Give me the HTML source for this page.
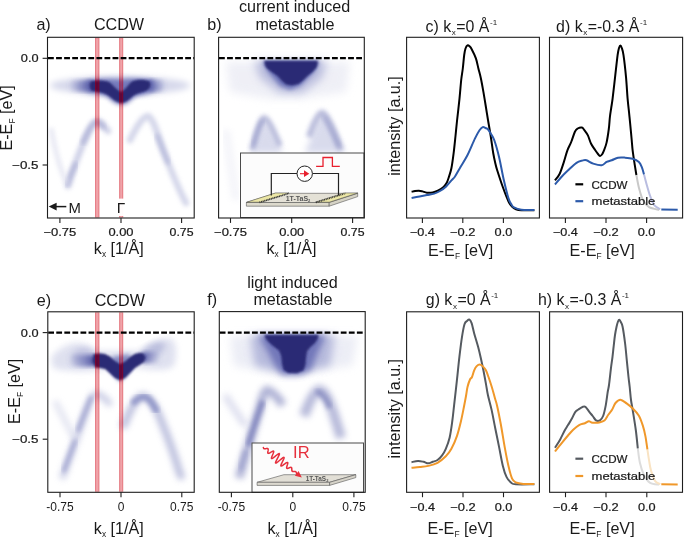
<!DOCTYPE html>
<html><head><meta charset="utf-8"><style>
html,body{margin:0;padding:0;background:#fff;width:685px;height:538px;overflow:hidden;}
svg{display:block;font-family:"Liberation Sans", sans-serif;}
</style></head><body>
<svg width="685" height="538" viewBox="0 0 685 538" font-family='"Liberation Sans", sans-serif'>
<defs>
  <filter id="b1" x="-20%" y="-20%" width="140%" height="140%"><feGaussianBlur stdDeviation="1.2"/></filter>
  <filter id="b2" x="-20%" y="-20%" width="140%" height="140%"><feGaussianBlur stdDeviation="2"/></filter>
  <filter id="b3" x="-30%" y="-30%" width="160%" height="160%"><feGaussianBlur stdDeviation="3"/></filter>
  <filter id="b4" x="-30%" y="-30%" width="160%" height="160%"><feGaussianBlur stdDeviation="4.5"/></filter>
  <clipPath id="cA"><rect x="48" y="37.8" width="145.7" height="179.5"/></clipPath>
  <clipPath id="cB"><rect x="219.1" y="37.8" width="144.7" height="179.5"/></clipPath>
  <clipPath id="cE"><rect x="48.3" y="312.3" width="145.4" height="179.5"/></clipPath>
  <clipPath id="cF"><rect x="219.8" y="312.1" width="144.9" height="179.7"/></clipPath>
  <linearGradient id="gl" x1="0" x2="1" y1="0" y2="0"><stop offset="0" stop-color="#5a60ac" stop-opacity="0"/><stop offset="0.55" stop-color="#5a60ac" stop-opacity="0.55"/><stop offset="1" stop-color="#3a3f94" stop-opacity="1"/></linearGradient>
  <linearGradient id="gr" x1="1" x2="0" y1="0" y2="0"><stop offset="0" stop-color="#5a60ac" stop-opacity="0"/><stop offset="0.55" stop-color="#5a60ac" stop-opacity="0.5"/><stop offset="1" stop-color="#3a3f94" stop-opacity="1"/></linearGradient>
  <filter id="redmap" x="0" y="0" width="100%" height="100%" color-interpolation-filters="sRGB"><feColorMatrix type="matrix" values="0.684 0 0 0 0.257  0 0.735 0 0 -0.095  0 0 0.791 0 -0.13  0 0 0 1 0"/></filter>
</defs>

<g id="arpA" clip-path="url(#cA)">
<ellipse cx="120" cy="85.5" rx="70" ry="9" fill="#d6d8eb" opacity="1" filter="url(#b3)"/>
<ellipse cx="119" cy="87" rx="42" ry="8.5" fill="#a3a7d2" opacity="0.8" filter="url(#b3)"/>
<rect x="68" y="80" width="26" height="11.5" rx="5" fill="url(#gl)" filter="url(#b2)"/>
<rect x="147" y="79.5" width="19" height="12" rx="5" fill="url(#gr)" filter="url(#b2)"/>
<path d="M88,80.5 C100,78.5 112,79 121,80 C130,79 142,78 152,80 L153,91 C146,94 139,95 135,97 C130,102 126,105 121,105 C116,105 111,101 106,96 C100,93 93,92.5 88,92 Z" fill="#666cb4" opacity="0.8" filter="url(#b2)"/>
<path d="M91,81.5 C96,80 104,80 109,82 C113,85 117,90 121,92 C125,90 128,85 132,81.5 C137,79 145,79 149.5,81.5 C151.5,84.5 150.5,88.5 146,91 C141,93 136,93.5 133,96 C129,100 125,103 121,103 C116,102.5 113,99 109,96 C104,92.5 97,91.5 92,91 C89,89 89,83 91,81.5 Z" fill="#2b2c74" filter="url(#b1)"/>
<path d="M68,186 C72,172 80,150 88,133 C91,126 94,121 97,121 C101,121 104,126 108,131" fill="none" stroke="#c0c3e0" stroke-width="6.5" stroke-linecap="round" opacity="0.75" filter="url(#b2)"/>
<path d="M67,184 C70,176 73,170 76,164" fill="none" stroke="#9da1cd" stroke-width="5" stroke-linecap="round" opacity="0.55" filter="url(#b2)"/>
<path d="M83,142 C87,133 91,126 95,123 C98,122 101,124 103,127" fill="none" stroke="#9da1cd" stroke-width="5.5" stroke-linecap="round" opacity="0.55" filter="url(#b2)"/>
<path d="M51,128 C54,145 58,165 67,184" fill="none" stroke="#dfe0ef" stroke-width="5" opacity="0.7" filter="url(#b2)"/>
<path d="M130,140 C136,128 142,117 148,116 C153,118 157,132 164,152 C170,168 178,188 186,203" fill="none" stroke="#c6c9e3" stroke-width="6.5" stroke-linecap="round" opacity="0.75" filter="url(#b2)"/>
<path d="M157,136 C160,143 163,151 168,162" fill="none" stroke="#a3a7d0" stroke-width="5" stroke-linecap="round" opacity="0.55" filter="url(#b2)"/>
</g>
<clipPath id="rbA"><rect x="95.0" y="37.8" width="4.4" height="179.7"/><rect x="119.1" y="37.8" width="4.1" height="179.7"/></clipPath>
<g clip-path="url(#rbA)"><g filter="url(#redmap)"><rect x="90" y="37.8" width="40" height="179.7" fill="#fff"/><use href="#arpA"/></g></g>
<rect x="95.55" y="37.8" width="3.3000000000000003" height="179.7" fill="none" stroke="rgb(200,0,20)" stroke-opacity="0.22" stroke-width="1.1"/>
<rect x="119.64999999999999" y="37.8" width="2.9999999999999996" height="179.7" fill="none" stroke="rgb(200,0,20)" stroke-opacity="0.22" stroke-width="1.1"/>
<line x1="48.0" y1="58.2" x2="194" y2="58.2" stroke="#000" stroke-width="2.2" stroke-dasharray="5.8 2.27"/>
<g clip-path="url(#cB)">
<path d="M226,62 L350,62 L346,92 L300,99 L270,99 L230,92 Z" fill="#e6e7f2" opacity="0.65" filter="url(#b4)"/>
<path d="M254,61 L327,61 L322,78 L302,93 L280,93 L260,78 Z" fill="#a9add6" opacity="0.75" filter="url(#b4)"/>
<path d="M262,61 L320,61 L314,72 L300,86 L290,90 L280,86 L268,72 Z" fill="#5058a8" opacity="0.7" filter="url(#b2)"/>
<polygon points="264.3,60.8 317.6,60.8 317.6,64 316.5,67.5 313,71.5 307.5,76 303,80.5 298.5,84 292,85.6 286,84.5 282,81 277.5,76 271,71.5 266.5,68 264.8,64.5" fill="#2b2c74" filter="url(#b1)"/>
<polygon points="251,153 264,116 283,153" fill="#c9cce5" opacity="0.7" filter="url(#b3)"/>
<polygon points="305,153 322,110 345,153" fill="#c9cce5" opacity="0.7" filter="url(#b3)"/>
<path d="M252,150 C256,134 260,120 264,118 C268,118 274,132 280,146" fill="none" stroke="#a7abd2" stroke-width="6" opacity="0.75" filter="url(#b2)"/>
<path d="M253,146 C256,136 259,126 263,120" fill="none" stroke="#8c91c4" stroke-width="4" opacity="0.55" filter="url(#b2)"/>
<path d="M309,137 C313,125 318,113 322,113 C327,114 334,130 341,150" fill="none" stroke="#a7abd2" stroke-width="6.5" opacity="0.75" filter="url(#b2)"/>
<path d="M324,117 C328,124 333,134 339,147" fill="none" stroke="#8c91c4" stroke-width="4.5" opacity="0.55" filter="url(#b2)"/>
<path d="M226,130 L236,200" fill="none" stroke="#dfe0ef" stroke-width="8" opacity="0.35" filter="url(#b3)"/>
</g>
<line x1="219.0" y1="58.2" x2="364" y2="58.2" stroke="#000" stroke-width="2.2" stroke-dasharray="5.8 2.27"/>
<g id="arpE" clip-path="url(#cE)">
<path d="M51,358 C56,350 66,344 76,343 C86,343 92,348 98,351 L140,351 C150,346 160,338 170,338 C176,340 178,352 174,366 C165,372 150,370 140,368 L100,370 C85,372 65,372 53,368 Z" fill="#dcdeee" opacity="0.9" filter="url(#b3)"/>
<ellipse cx="84" cy="357" rx="12" ry="9" fill="#b3b6da" opacity="0.7" filter="url(#b3)"/>
<ellipse cx="153" cy="350" rx="13" ry="6.5" transform="rotate(-28 153 350)" fill="#a6aad3" opacity="0.65" filter="url(#b3)"/>
<rect x="68" y="355" width="29" height="11.5" rx="5" fill="url(#gl)" filter="url(#b2)"/>
<rect x="141" y="352" width="20" height="11" rx="5" fill="url(#gr)" filter="url(#b2)"/>
<path d="M112,357 L130,354 L130,372 L120,382 L110,372 Z" fill="#4a52a4" opacity="0.6" filter="url(#b2)"/>
<polygon points="93.5,354 100,353.2 105,354 110,356.5 115,361 120,364 125,361.5 130,357 135,353.8 140,352.8 143.5,353.5 145.5,357.5 144,362 140,364.8 135,368 130,373 125,378 120,380.3 115,378 110,373.3 105,369 100,368 95,367.5 92.5,361" fill="#2b2c74" filter="url(#b1)"/>
<path d="M63,476 C68,462 76,440 84,417 C88,405 92,395 95,394 C100,394 105,398 109,403" fill="none" stroke="#b4b8da" stroke-width="6.5" stroke-linecap="round" opacity="0.7" filter="url(#b3)"/>
<path d="M64,470 C67,462 71,452 75,441" fill="none" stroke="#8a8fc4" stroke-width="5" stroke-linecap="round" opacity="0.6" filter="url(#b2)"/>
<path d="M78,430 C82,420 86,410 91,398" fill="none" stroke="#8a8fc4" stroke-width="5" stroke-linecap="round" opacity="0.6" filter="url(#b2)"/>
<path d="M55,401 C62,415 70,430 75,439" fill="none" stroke="#d6d8ea" stroke-width="6" opacity="0.7" filter="url(#b3)"/>
<path d="M124,425 C130,410 136,398 142,396 C148,396 154,405 158,413 C163,425 170,442 176,461 C178,468 180,474 181,476" fill="none" stroke="#a6aad2" stroke-width="7.5" stroke-linecap="round" opacity="0.75" filter="url(#b3)"/>
<path d="M134,402 C138,398 142,396 146,397 C150,399 153,404 156,410" fill="none" stroke="#7e84bf" stroke-width="6.5" stroke-linecap="round" opacity="0.7" filter="url(#b2)"/>
</g>
<clipPath id="rbE"><rect x="95.0" y="312.3" width="4.4" height="179.5"/><rect x="119.1" y="312.3" width="4.1" height="179.5"/></clipPath>
<g clip-path="url(#rbE)"><g filter="url(#redmap)"><rect x="90" y="312.3" width="40" height="179.5" fill="#fff"/><use href="#arpE"/></g></g>
<rect x="95.55" y="312.3" width="3.3000000000000003" height="179.5" fill="none" stroke="rgb(200,0,20)" stroke-opacity="0.22" stroke-width="1.1"/>
<rect x="119.64999999999999" y="312.3" width="2.9999999999999996" height="179.5" fill="none" stroke="rgb(200,0,20)" stroke-opacity="0.22" stroke-width="1.1"/>
<line x1="48.2" y1="332.7" x2="194" y2="332.7" stroke="#000" stroke-width="2.2" stroke-dasharray="5.8 2.27"/>
<g clip-path="url(#cF)">
<path d="M230,336 L358,336 L352,366 L300,372 L270,372 L234,366 Z" fill="#e4e6f2" opacity="0.7" filter="url(#b4)"/>
<path d="M250,335 L335,335 L330,366 L300,373 L282,373 L255,366 Z" fill="#a9add6" opacity="0.8" filter="url(#b4)"/>
<path d="M258,335 L326,335 L318,352 L311,370 L300,375 L282,375 L275,366 L268,352 Z" fill="#5c62ae" opacity="0.75" filter="url(#b3)"/>
<polygon points="264.5,334.8 318.5,334.8 318,338.5 315,343 310,347.5 307,351.5 306,358 305.5,365 303.5,370.5 297,373.2 288,373 283.5,370 282,364 281.2,356 279,350.5 273,346 267.5,341 265,337.5" fill="#2b2c74" filter="url(#b1)"/>
<path d="M239,478 C245,458 252,432 259,410 C262,399 264,391 267,390 C272,391 278,398 283,405" fill="none" stroke="#a0a4ce" stroke-width="8.5" opacity="0.85" filter="url(#b3)"/>
<path d="M248,446 C252,432 256,420 263,401" fill="none" stroke="#6a70b2" stroke-width="5.5" opacity="0.65" filter="url(#b2)"/>
<path d="M240,470 C242,462 244,456 246,450" fill="none" stroke="#8a8fc4" stroke-width="5" opacity="0.5" filter="url(#b2)"/>
<path d="M225,395 C232,406 240,418 246,426" fill="none" stroke="#d0d2e8" stroke-width="7" opacity="0.7" filter="url(#b3)"/>
<path d="M304,416 C309,402 314,392 319,390 C325,390 330,402 335,418 C338,428 340,434 341,438" fill="none" stroke="#a4a8d0" stroke-width="10" opacity="0.8" filter="url(#b3)"/>
<path d="M316,392 C321,392 326,398 330,408" fill="none" stroke="#6f75b4" stroke-width="5.5" opacity="0.6" filter="url(#b2)"/>
</g>
<line x1="219.7" y1="332.7" x2="365" y2="332.7" stroke="#000" stroke-width="2.2" stroke-dasharray="5.8 2.27"/>
<rect x="240.5" y="153" width="123.5" height="64.5" fill="#fcfcfc" stroke="#4a4a4a" stroke-width="1"/>
<polygon points="246.4,202.5 275,193.3 357.7,193.3 329.2,202.5" fill="#e4e1d6" stroke="#555" stroke-width="0.6"/>
<polygon points="246.4,202.5 329.2,202.5 329.2,206.2 246.4,206.2" fill="#dcd9cc" stroke="#555" stroke-width="0.6"/>
<polygon points="329.2,202.5 357.7,193.3 357.7,196.6 329.2,206.2" fill="#d6d3c6" stroke="#555" stroke-width="0.6"/>
<polygon points="246.6,202.2 275.5,193 289,193 261,202.2" fill="#ece7a6" stroke="#444" stroke-width="0.5"/>
<line x1="259.5" y1="202.4" x2="289" y2="193.4" stroke="#333" stroke-width="1.7" stroke-dasharray="0.9 0.8"/>
<polygon points="315.5,202.2 344,193 357.7,193 329.2,202.2" fill="#ece7a6" stroke="#444" stroke-width="0.5"/>
<line x1="316" y1="202.4" x2="345.5" y2="193.4" stroke="#333" stroke-width="1.7" stroke-dasharray="0.9 0.8"/>
<text x="298" y="201.2" font-size="7" font-weight="bold" text-anchor="middle" fill="#555">1T-TaS<tspan font-size="4" dy="1.2">2</tspan></text>
<polyline points="271.3,195.5 271.3,173.5 297,173.5" fill="none" stroke="#222" stroke-width="1.2"/>
<polyline points="312.5,173.5 338.5,173.5 338.5,195.5" fill="none" stroke="#222" stroke-width="1.2"/>
<circle cx="304.7" cy="173.7" r="7.7" fill="#fff" stroke="#222" stroke-width="1"/>
<line x1="300" y1="173.7" x2="305" y2="173.7" stroke="#e8202e" stroke-width="1.1"/>
<polygon points="304,170.3 309.3,173.7 304,177.1" fill="#e8202e"/>
<polyline points="316.1,166.4 323,166.4 323,157.5 332.4,157.5 332.4,166.4 339.8,166.4" fill="none" stroke="#e8202e" stroke-width="1.3"/>
<rect x="252" y="443" width="111.5" height="49.3" fill="#fcfcfc" stroke="#4a4a4a" stroke-width="1"/>
<polygon points="257.1,482.3 283.9,474.7 355.8,474.7 329.6,482.3" fill="#e2dfd6" stroke="#555" stroke-width="0.6"/>
<polygon points="257.1,482.3 329.6,482.3 329.6,485.4 257.1,485.4" fill="#dcd9cf" stroke="#555" stroke-width="0.6"/>
<polygon points="329.6,482.3 355.8,474.7 355.8,477.6 329.6,485.4" fill="#d6d3c9" stroke="#555" stroke-width="0.6"/>
<text x="317" y="480.8" font-size="6.4" font-weight="bold" text-anchor="middle" fill="#555">1T-TaS<tspan font-size="4" dy="1.2">2</tspan></text>
<polyline points="263.30,446.80 263.33,447.00 263.35,447.20 263.38,447.40 263.42,447.59 263.46,447.77 263.50,447.95 263.56,448.11 263.63,448.26 263.70,448.40 263.80,448.52 263.90,448.62 264.03,448.70 264.16,448.76 264.31,448.81 264.48,448.83 264.66,448.84 264.85,448.84 265.05,448.82 265.27,448.78 265.49,448.74 265.71,448.69 265.94,448.64 266.17,448.59 266.40,448.54 266.62,448.49 266.84,448.46 267.05,448.43 267.24,448.42 267.42,448.43 267.58,448.47 267.73,448.52 267.85,448.60 267.95,448.70 268.04,448.83 268.10,448.99 268.14,449.17 268.16,449.38 268.16,449.61 268.15,449.86 268.12,450.13 268.08,450.41 268.03,450.70 267.98,451.00 267.93,451.30 267.88,451.60 267.83,451.89 267.80,452.16 267.78,452.42 267.78,452.65 267.80,452.86 267.85,453.04 267.92,453.18 268.03,453.28 268.16,453.35 268.32,453.38 268.52,453.37 268.75,453.32 269.00,453.24 269.28,453.12 269.59,452.97 269.91,452.80 270.25,452.61 270.60,452.41 270.96,452.19 271.31,451.98 271.66,451.78 272.00,451.59 272.32,451.42 272.62,451.29 272.89,451.18 273.13,451.12 273.33,451.10 273.49,451.14 273.61,451.22 273.68,451.36 273.71,451.56 273.70,451.81 273.64,452.11 273.55,452.46 273.42,452.86 273.26,453.29 273.07,453.76 272.87,454.25 272.66,454.75 272.44,455.25 272.22,455.75 272.02,456.24 271.84,456.70 271.68,457.13 271.56,457.51 271.48,457.85 271.45,458.12 271.47,458.33 271.54,458.48 271.67,458.55 271.86,458.55 272.10,458.48 272.40,458.34 272.75,458.13 273.15,457.87 273.59,457.55 274.07,457.19 274.57,456.80 275.09,456.38 275.62,455.96 276.14,455.53 276.66,455.12 277.15,454.74 277.62,454.39 278.05,454.09 278.43,453.85 278.75,453.68 279.02,453.58 279.22,453.56 279.36,453.62 279.43,453.77 279.43,454.00 279.36,454.32 279.24,454.71 279.05,455.17 278.82,455.70 278.54,456.28 278.23,456.90 277.90,457.55 277.55,458.22 277.20,458.89 276.86,459.55 276.53,460.18 276.24,460.78 275.99,461.34 275.78,461.83 275.63,462.25 275.54,462.59 275.52,462.85 275.57,463.02 275.69,463.11 275.88,463.10 276.14,463.01 276.47,462.83 276.86,462.58 277.30,462.26 277.79,461.89 278.32,461.46 278.87,461.00 279.44,460.53 280.02,460.04 280.59,459.56 281.15,459.09 281.68,458.66 282.18,458.28 282.63,457.95 283.03,457.68 283.38,457.48 283.66,457.37 283.87,457.33 284.02,457.38 284.10,457.52 284.11,457.73 284.07,458.03 283.96,458.40 283.80,458.83 283.59,459.32 283.35,459.85 283.08,460.42 282.80,461.01 282.50,461.62 282.20,462.22 281.92,462.81 281.65,463.38 281.41,463.91 281.21,464.40 281.05,464.83 280.93,465.21 280.87,465.52 280.87,465.76 280.92,465.93 281.03,466.02 281.19,466.05 281.41,466.01 281.68,465.91 281.99,465.75 282.35,465.55 282.73,465.30 283.14,465.02 283.57,464.72 284.01,464.40 284.46,464.08 284.89,463.77 285.32,463.47 285.72,463.20 286.10,462.96 286.45,462.76 286.77,462.60 287.04,462.49 287.27,462.44 287.46,462.43 287.61,462.48 287.71,462.59 287.77,462.75 287.79,462.95 287.78,463.20 287.73,463.49 287.66,463.82 287.57,464.17 287.46,464.54 287.34,464.92 287.21,465.31 287.09,465.70 286.97,466.08 286.87,466.45 286.78,466.79 286.71,467.11 286.66,467.41 286.64,467.66 286.65,467.89 286.69,468.07 286.76,468.22 286.86,468.33 286.99,468.40 287.14,468.44 287.33,468.44 287.54,468.41 287.77,468.36 288.01,468.28 288.28,468.19 288.55,468.09 288.82,467.98 289.10,467.86 289.38,467.75 289.65,467.64 289.91,467.55 290.17,467.47 290.40,467.40 290.63,467.36 290.83,467.34 291.01,467.35 291.17,467.38 291.31,467.44 291.43,467.52 291.54,467.63 291.62,467.76 291.68,467.91 291.73,468.09 291.76,468.28 291.78,468.49 291.79,468.71 291.80,468.93 291.80,469.17 291.80,469.40 291.80,469.63 291.80,469.86 291.81,470.08 291.83,470.29 291.86,470.49 291.90,470.68 291.95,470.85 292.01,471.00 292.09,471.14 292.19,471.25 292.30,471.35 292.42,471.43 292.56,471.49 292.71,471.54 292.87,471.57 293.04,471.59 293.23,471.59 293.42,471.59 293.61,471.58 293.81,471.57 294.01,471.55 294.21,471.53 294.41,471.52 294.60,471.51 294.79,471.51 294.97,471.52 295.14,471.53 295.31,471.56 295.46,471.61 295.60,471.66 295.73,471.73 295.85,471.82 295.96,471.92 296.06,472.03 296.14,472.16 296.22,472.30 296.28,472.45 296.34,472.61 296.39,472.78 296.44,472.95 296.48,473.13 296.52,473.32 296.56,473.50 296.61,473.68 296.65,473.86 296.70,474.03 296.75,474.20 296.82,474.35 296.89,474.50 296.97,474.63 297.05,474.76" fill="none" stroke="#e62f3c" stroke-width="1.5" stroke-linejoin="round"/>
<polygon points="301.8,477.5 294.85,475.78 298.60,471.09" fill="#e62f3c"/>
<text x="301.3" y="457.8" font-size="16.5" text-anchor="middle" fill="#e62f3c">IR</text>
<rect x="47.5" y="37.3" width="146.7" height="180.7" fill="none" stroke="#1e1e1e" stroke-width="1.1"/>
<rect x="218.6" y="37.3" width="145.70000000000002" height="180.7" fill="none" stroke="#1e1e1e" stroke-width="1.1"/>
<rect x="406.6" y="37.3" width="132.79999999999995" height="180.7" fill="none" stroke="#1e1e1e" stroke-width="1.1"/>
<rect x="549.5" y="37.3" width="133.10000000000002" height="180.7" fill="none" stroke="#1e1e1e" stroke-width="1.1"/>
<rect x="47.8" y="311.8" width="146.39999999999998" height="180.5" fill="none" stroke="#1e1e1e" stroke-width="1.1"/>
<rect x="219.3" y="311.6" width="145.89999999999998" height="180.7" fill="none" stroke="#1e1e1e" stroke-width="1.1"/>
<rect x="406.6" y="311.8" width="132.79999999999995" height="180.5" fill="none" stroke="#1e1e1e" stroke-width="1.1"/>
<rect x="549.6" y="311.8" width="132.89999999999998" height="180.5" fill="none" stroke="#1e1e1e" stroke-width="1.1"/>
<path d="M411.60,191.80 C412.17,191.67 413.78,191.18 415.00,191.00 C416.22,190.82 417.65,190.63 418.90,190.70 C420.15,190.77 421.17,191.07 422.50,191.40 C423.83,191.73 425.20,192.52 426.90,192.70 C428.60,192.88 430.88,192.83 432.70,192.50 C434.52,192.17 436.08,191.55 437.80,190.70 C439.52,189.85 441.53,188.68 443.00,187.40 C444.47,186.12 445.63,184.70 446.60,183.00 C447.57,181.30 448.00,179.65 448.80,177.20 C449.60,174.75 450.60,172.27 451.40,168.30 C452.20,164.33 452.92,158.78 453.60,153.40 C454.28,148.02 454.93,141.40 455.50,136.00 C456.07,130.60 456.33,127.23 457.00,121.00 C457.67,114.77 458.80,105.43 459.50,98.60 C460.20,91.77 460.65,85.02 461.20,80.00 C461.75,74.98 462.30,72.67 462.80,68.50 C463.30,64.33 463.75,58.33 464.20,55.00 C464.65,51.67 464.95,50.10 465.50,48.50 C466.05,46.90 466.83,45.78 467.50,45.40 C468.17,45.02 468.80,45.57 469.50,46.20 C470.20,46.83 470.63,47.17 471.70,49.20 C472.77,51.23 474.78,55.18 475.90,58.40 C477.02,61.62 477.57,65.15 478.40,68.50 C479.23,71.85 480.07,74.60 480.90,78.50 C481.73,82.40 482.57,87.15 483.40,91.90 C484.23,96.65 485.13,102.32 485.90,107.00 C486.67,111.68 487.20,115.17 488.00,120.00 C488.80,124.83 489.83,130.50 490.70,136.00 C491.57,141.50 492.40,148.33 493.20,153.00 C494.00,157.67 494.83,161.13 495.50,164.00 C496.17,166.87 495.98,166.37 497.20,170.20 C498.42,174.03 500.93,181.83 502.80,187.00 C504.67,192.17 506.87,197.95 508.40,201.20 C509.93,204.45 510.73,205.17 512.00,206.50 C513.27,207.83 514.43,208.58 516.00,209.20 C517.57,209.82 518.33,210.03 521.40,210.20 C524.47,210.37 532.23,210.20 534.40,210.20" fill="none" stroke="#000000" stroke-width="2.0" stroke-linejoin="round" stroke-linecap="butt" />
<path d="M411.60,198.00 C412.93,197.75 417.05,196.98 419.60,196.50 C422.15,196.02 424.47,195.58 426.90,195.10 C429.33,194.62 432.02,194.28 434.20,193.60 C436.38,192.92 438.05,192.15 440.00,191.00 C441.95,189.85 443.95,188.52 445.90,186.70 C447.85,184.88 450.18,181.80 451.70,180.10 C453.22,178.40 453.53,178.68 455.00,176.50 C456.47,174.32 458.43,170.53 460.50,167.00 C462.57,163.47 465.00,160.03 467.40,155.30 C469.80,150.57 472.88,142.78 474.90,138.60 C476.92,134.42 478.20,132.12 479.50,130.20 C480.80,128.28 481.70,127.47 482.70,127.10 C483.70,126.73 484.63,127.63 485.50,128.00 C486.37,128.37 486.98,128.30 487.90,129.30 C488.82,130.30 489.92,132.13 491.00,134.00 C492.08,135.87 493.05,136.63 494.40,140.50 C495.75,144.37 497.55,150.70 499.10,157.20 C500.65,163.70 502.15,172.68 503.70,179.50 C505.25,186.32 507.10,193.93 508.40,198.10 C509.70,202.27 510.57,202.95 511.50,204.50 C512.43,206.05 512.35,206.53 514.00,207.40 C515.65,208.27 518.00,209.28 521.40,209.70 C524.80,210.12 532.23,209.87 534.40,209.90" fill="none" stroke="#2c5aaa" stroke-width="2.0" stroke-linejoin="round" stroke-linecap="butt" />
<path d="M636.40,175.00 C636.82,177.12 637.82,183.53 638.90,187.70 C639.98,191.87 641.20,196.77 642.90,200.00 C644.60,203.23 646.37,205.47 649.10,207.10 C651.83,208.73 657.60,209.35 659.30,209.80" fill="none" stroke="#c9c9c9" stroke-width="2.0" stroke-linejoin="round" stroke-linecap="butt" />
<path d="M644.00,174.40 C644.50,176.28 645.98,182.12 647.00,185.70 C648.02,189.28 648.90,192.67 650.10,195.90 C651.30,199.13 652.50,202.88 654.20,205.10 C655.90,207.32 659.28,208.52 660.30,209.20" fill="none" stroke="#b9bde0" stroke-width="2.0" stroke-linejoin="round" stroke-linecap="butt" />
<path d="M555.00,180.40 C555.78,179.28 558.22,176.78 559.70,173.70 C561.18,170.62 562.62,165.80 563.90,161.90 C565.18,158.00 566.18,153.62 567.40,150.30 C568.62,146.98 569.95,145.10 571.20,142.00 C572.45,138.90 573.82,133.95 574.90,131.70 C575.98,129.45 576.55,129.20 577.70,128.50 C578.85,127.80 580.72,127.27 581.80,127.50 C582.88,127.73 583.18,128.58 584.20,129.90 C585.22,131.22 586.75,133.08 587.90,135.40 C589.05,137.72 589.87,141.32 591.10,143.80 C592.33,146.28 594.15,148.60 595.30,150.30 C596.45,152.00 597.22,153.07 598.00,154.00 C598.78,154.93 599.33,155.82 600.00,155.90 C600.67,155.98 601.38,155.28 602.00,154.50 C602.62,153.72 602.95,153.13 603.70,151.20 C604.45,149.27 605.65,146.60 606.50,142.90 C607.35,139.20 608.23,133.32 608.80,129.00 C609.37,124.68 609.50,120.50 609.90,117.00 C610.30,113.50 610.75,111.05 611.20,108.00 C611.65,104.95 611.95,103.88 612.60,98.70 C613.25,93.52 614.27,84.17 615.10,76.90 C615.93,69.63 616.95,59.92 617.60,55.10 C618.25,50.28 618.53,49.62 619.00,48.00 C619.47,46.38 619.93,45.40 620.40,45.40 C620.87,45.40 621.28,46.38 621.80,48.00 C622.32,49.62 622.80,50.28 623.50,55.10 C624.20,59.92 625.32,69.63 626.00,76.90 C626.68,84.17 627.10,92.85 627.60,98.70 C628.10,104.55 628.57,107.78 629.00,112.00 C629.43,116.22 629.75,119.33 630.20,124.00 C630.65,128.67 631.28,135.52 631.70,140.00 C632.12,144.48 632.18,146.70 632.70,150.90 C633.22,155.10 634.18,161.18 634.80,165.20 C635.42,169.22 636.13,173.37 636.40,175.00" fill="none" stroke="#000000" stroke-width="2.0" stroke-linejoin="round" stroke-linecap="butt" />
<path d="M555.00,184.50 C556.07,183.25 559.22,179.37 561.40,177.00 C563.58,174.63 565.58,172.67 568.10,170.30 C570.62,167.93 574.13,164.42 576.50,162.80 C578.87,161.18 580.63,161.02 582.30,160.60 C583.97,160.18 584.68,159.80 586.50,160.30 C588.32,160.80 590.68,162.77 593.20,163.60 C595.72,164.43 599.37,165.58 601.60,165.30 C603.83,165.02 604.92,162.73 606.60,161.90 C608.28,161.07 609.80,161.00 611.70,160.30 C613.60,159.60 615.87,158.15 618.00,157.70 C620.13,157.25 622.05,157.43 624.50,157.60 C626.95,157.77 630.30,157.95 632.70,158.70 C635.10,159.45 637.37,160.67 638.90,162.10 C640.43,163.53 641.05,165.25 641.90,167.30 C642.75,169.35 643.65,173.22 644.00,174.40" fill="none" stroke="#2c5aaa" stroke-width="2.0" stroke-linejoin="round" stroke-linecap="butt" />
<path d="M661.30,209.60 L677.70,209.80" fill="none" stroke="#2c5aaa" stroke-width="2.0" stroke-linejoin="round" stroke-linecap="butt" />
<path d="M411.50,462.20 C412.58,461.98 415.98,460.97 418.00,460.90 C420.02,460.83 421.90,461.40 423.60,461.80 C425.30,462.20 426.67,463.30 428.20,463.30 C429.73,463.30 431.25,462.35 432.80,461.80 C434.35,461.25 435.95,461.08 437.50,460.00 C439.05,458.92 440.72,457.17 442.10,455.30 C443.48,453.43 444.55,451.73 445.80,448.80 C447.05,445.87 448.52,442.33 449.60,437.70 C450.68,433.07 451.53,426.57 452.30,421.00 C453.07,415.43 453.43,411.07 454.20,404.30 C454.97,397.53 456.03,388.30 456.90,380.40 C457.77,372.50 458.55,364.17 459.40,356.90 C460.25,349.63 461.15,342.25 462.00,336.80 C462.85,331.35 463.67,326.85 464.50,324.20 C465.33,321.55 466.17,321.67 467.00,320.90 C467.83,320.13 468.72,319.18 469.50,319.60 C470.28,320.02 470.92,321.10 471.70,323.40 C472.48,325.70 473.13,329.50 474.20,333.40 C475.27,337.30 476.98,342.62 478.10,346.80 C479.22,350.98 480.02,354.58 480.90,358.50 C481.78,362.42 482.57,366.12 483.40,370.30 C484.23,374.48 485.15,379.48 485.90,383.60 C486.65,387.72 486.95,390.62 487.90,395.00 C488.85,399.38 490.37,404.32 491.60,409.90 C492.83,415.48 494.05,422.30 495.30,428.50 C496.55,434.70 497.85,440.90 499.10,447.10 C500.35,453.30 501.57,460.73 502.80,465.70 C504.03,470.67 505.10,474.05 506.50,476.90 C507.90,479.75 509.65,481.57 511.20,482.80 C512.75,484.03 511.93,484.05 515.80,484.30 C519.67,484.55 531.30,484.30 534.40,484.30" fill="none" stroke="#555a60" stroke-width="2.0" stroke-linejoin="round" stroke-linecap="butt" />
<path d="M411.50,467.80 C412.90,467.67 417.12,467.32 419.90,467.00 C422.68,466.68 425.27,466.60 428.20,465.90 C431.13,465.20 434.57,464.40 437.50,462.80 C440.43,461.20 443.48,458.63 445.80,456.30 C448.12,453.97 449.53,452.22 451.40,448.80 C453.27,445.38 455.40,440.43 457.00,435.80 C458.60,431.17 459.83,425.88 461.00,421.00 C462.17,416.12 463.17,410.67 464.00,406.50 C464.83,402.33 465.42,399.25 466.00,396.00 C466.58,392.75 466.83,389.75 467.50,387.00 C468.17,384.25 469.25,381.17 470.00,379.50 C470.75,377.83 471.30,378.53 472.00,377.00 C472.70,375.47 473.42,372.12 474.20,370.30 C474.98,368.48 475.78,367.08 476.70,366.10 C477.62,365.12 478.72,364.40 479.70,364.40 C480.68,364.40 481.57,365.12 482.60,366.10 C483.63,367.08 484.92,368.48 485.90,370.30 C486.88,372.12 487.52,374.22 488.50,377.00 C489.48,379.78 490.70,383.38 491.80,387.00 C492.90,390.62 494.20,395.50 495.10,398.70 C496.00,401.90 496.23,401.85 497.20,406.20 C498.17,410.55 499.65,417.98 500.90,424.80 C502.15,431.62 503.45,440.28 504.70,447.10 C505.95,453.92 507.17,460.43 508.40,465.70 C509.63,470.97 510.87,475.92 512.10,478.70 C513.33,481.48 513.93,481.53 515.80,482.40 C517.67,483.27 520.20,483.62 523.30,483.90 C526.40,484.18 532.55,484.07 534.40,484.10" fill="none" stroke="#f0982a" stroke-width="2.0" stroke-linejoin="round" stroke-linecap="butt" />
<path d="M637.80,448.40 C638.15,450.78 638.87,458.27 639.90,462.70 C640.93,467.13 642.30,471.65 644.00,475.00 C645.70,478.35 647.55,481.20 650.10,482.80 C652.65,484.40 657.77,484.30 659.30,484.60" fill="none" stroke="#dcdcdc" stroke-width="2.0" stroke-linejoin="round" stroke-linecap="butt" />
<path d="M647.40,449.40 C647.68,451.28 648.48,457.12 649.10,460.70 C649.72,464.28 650.08,467.50 651.10,470.90 C652.12,474.30 653.67,478.88 655.20,481.10 C656.73,483.32 659.45,483.68 660.30,484.20" fill="none" stroke="#f9e3c3" stroke-width="2.0" stroke-linejoin="round" stroke-linecap="butt" />
<path d="M555.00,447.80 C555.87,446.40 558.57,442.32 560.20,439.40 C561.83,436.48 563.50,432.68 564.80,430.30 C566.10,427.92 566.82,427.05 568.00,425.10 C569.18,423.15 570.70,420.77 571.90,418.60 C573.10,416.43 574.12,413.62 575.20,412.10 C576.28,410.58 577.10,410.40 578.40,409.50 C579.70,408.60 581.80,407.13 583.00,406.70 C584.20,406.27 584.52,406.00 585.60,406.90 C586.68,407.80 588.32,410.58 589.50,412.10 C590.68,413.62 591.62,414.63 592.70,416.00 C593.78,417.37 594.80,419.58 596.00,420.30 C597.20,421.02 598.72,421.02 599.90,420.30 C601.08,419.58 602.13,418.45 603.10,416.00 C604.07,413.55 604.93,409.60 605.70,405.60 C606.47,401.60 607.15,395.43 607.70,392.00 C608.25,388.57 608.47,388.90 609.00,385.00 C609.53,381.10 610.32,373.28 610.90,368.60 C611.48,363.92 612.05,360.52 612.50,356.90 C612.95,353.28 613.18,350.55 613.60,346.90 C614.02,343.25 614.52,338.32 615.00,335.00 C615.48,331.68 616.00,329.25 616.50,327.00 C617.00,324.75 617.53,322.72 618.00,321.50 C618.47,320.28 618.83,319.62 619.30,319.70 C619.77,319.78 620.25,320.82 620.80,322.00 C621.35,323.18 621.88,323.22 622.60,326.80 C623.32,330.38 624.40,337.92 625.10,343.50 C625.80,349.08 626.23,354.72 626.80,360.30 C627.37,365.88 628.02,372.55 628.50,377.00 C628.98,381.45 629.28,383.17 629.70,387.00 C630.12,390.83 630.50,396.17 631.00,400.00 C631.50,403.83 631.90,405.00 632.70,410.00 C633.50,415.00 634.95,423.60 635.80,430.00 C636.65,436.40 637.47,445.33 637.80,448.40" fill="none" stroke="#555a60" stroke-width="2.0" stroke-linejoin="round" stroke-linecap="butt" />
<path d="M555.00,451.50 C556.08,450.13 559.33,445.97 561.50,443.30 C563.67,440.63 566.05,437.77 568.00,435.50 C569.95,433.23 571.35,431.43 573.20,429.70 C575.05,427.97 577.15,426.18 579.10,425.10 C581.05,424.02 583.28,423.85 584.90,423.20 C586.52,422.55 587.72,421.32 588.80,421.20 C589.88,421.08 590.37,422.23 591.40,422.50 C592.43,422.77 593.70,422.80 595.00,422.80 C596.30,422.80 597.63,422.87 599.20,422.50 C600.77,422.13 602.88,421.90 604.40,420.60 C605.92,419.30 607.00,416.55 608.30,414.70 C609.60,412.85 611.00,411.45 612.20,409.50 C613.40,407.55 614.13,404.63 615.50,403.00 C616.87,401.37 618.55,399.63 620.40,399.70 C622.25,399.77 624.55,401.93 626.60,403.40 C628.65,404.87 630.65,406.45 632.70,408.50 C634.75,410.55 637.20,412.80 638.90,415.70 C640.60,418.60 641.82,422.50 642.90,425.90 C643.98,429.30 644.65,432.18 645.40,436.10 C646.15,440.02 647.07,447.18 647.40,449.40" fill="none" stroke="#f0982a" stroke-width="2.0" stroke-linejoin="round" stroke-linecap="butt" />
<path d="M661.30,484.20 L677.70,484.40" fill="none" stroke="#f0982a" stroke-width="2.0" stroke-linejoin="round" stroke-linecap="butt" />
<line x1="575.4" y1="184.3" x2="583.2" y2="184.3" stroke="#000000" stroke-width="2.2" />
<line x1="575.4" y1="201.2" x2="583.2" y2="201.2" stroke="#2c5aaa" stroke-width="2.2" />
<text x="591.5" y="188.60000000000002" font-size="10.8" text-anchor="start" fill="#1a1a1a" textLength="36" lengthAdjust="spacingAndGlyphs" stroke="#1a1a1a" stroke-width="0.22">CCDW</text>
<text x="591.5" y="205.2" font-size="10.8" text-anchor="start" fill="#1a1a1a" textLength="63.9" lengthAdjust="spacingAndGlyphs" stroke="#1a1a1a" stroke-width="0.22">metastable</text>
<line x1="575.4" y1="458.7" x2="583.2" y2="458.7" stroke="#555a60" stroke-width="2.2" />
<line x1="575.4" y1="476.0" x2="583.2" y2="476.0" stroke="#f0982a" stroke-width="2.2" />
<text x="591.5" y="463.0" font-size="10.8" text-anchor="start" fill="#1a1a1a" textLength="36" lengthAdjust="spacingAndGlyphs" stroke="#1a1a1a" stroke-width="0.22">CCDW</text>
<text x="591.5" y="480.0" font-size="10.8" text-anchor="start" fill="#1a1a1a" textLength="63.9" lengthAdjust="spacingAndGlyphs" stroke="#1a1a1a" stroke-width="0.22">metastable</text>
<line x1="42.6" y1="58.3" x2="47.5" y2="58.3" stroke="#1e1e1e" stroke-width="1.1" />
<text x="38.5" y="62.199999999999996" font-size="11" text-anchor="end" fill="#1a1a1a" textLength="17.7" lengthAdjust="spacingAndGlyphs" stroke="#1a1a1a" stroke-width="0.22">0.0</text>
<line x1="42.6" y1="165.0" x2="47.5" y2="165.0" stroke="#1e1e1e" stroke-width="1.1" />
<text x="38.5" y="168.9" font-size="11" text-anchor="end" fill="#1a1a1a" textLength="26.4" lengthAdjust="spacingAndGlyphs" stroke="#1a1a1a" stroke-width="0.22">−0.5</text>
<line x1="59.9" y1="218.0" x2="59.9" y2="222.9" stroke="#1e1e1e" stroke-width="1.1" />
<text x="59.9" y="236.1" font-size="11" text-anchor="middle" fill="#1a1a1a" textLength="32.9" lengthAdjust="spacingAndGlyphs" stroke="#1a1a1a" stroke-width="0.22">−0.75</text>
<line x1="121.0" y1="218.0" x2="121.0" y2="222.9" stroke="#1e1e1e" stroke-width="1.1" />
<text x="121.0" y="236.1" font-size="11" text-anchor="middle" fill="#1a1a1a" textLength="25.1" lengthAdjust="spacingAndGlyphs" stroke="#1a1a1a" stroke-width="0.22">0.00</text>
<line x1="181.6" y1="218.0" x2="181.6" y2="222.9" stroke="#1e1e1e" stroke-width="1.1" />
<text x="181.6" y="236.1" font-size="11" text-anchor="middle" fill="#1a1a1a" textLength="24.0" lengthAdjust="spacingAndGlyphs" stroke="#1a1a1a" stroke-width="0.22">0.75</text>
<line x1="230.5" y1="218.0" x2="230.5" y2="222.9" stroke="#1e1e1e" stroke-width="1.1" />
<text x="230.5" y="236.1" font-size="11" text-anchor="middle" fill="#1a1a1a" textLength="32.9" lengthAdjust="spacingAndGlyphs" stroke="#1a1a1a" stroke-width="0.22">−0.75</text>
<line x1="291.7" y1="218.0" x2="291.7" y2="222.9" stroke="#1e1e1e" stroke-width="1.1" />
<text x="291.7" y="236.1" font-size="11" text-anchor="middle" fill="#1a1a1a" textLength="25.1" lengthAdjust="spacingAndGlyphs" stroke="#1a1a1a" stroke-width="0.22">0.00</text>
<line x1="352.6" y1="218.0" x2="352.6" y2="222.9" stroke="#1e1e1e" stroke-width="1.1" />
<text x="352.6" y="236.1" font-size="11" text-anchor="middle" fill="#1a1a1a" textLength="24.0" lengthAdjust="spacingAndGlyphs" stroke="#1a1a1a" stroke-width="0.22">0.75</text>
<line x1="422.4" y1="218.0" x2="422.4" y2="222.9" stroke="#1e1e1e" stroke-width="1.1" />
<text x="422.4" y="236.0" font-size="11" text-anchor="middle" fill="#1a1a1a" textLength="25.0" lengthAdjust="spacingAndGlyphs" stroke="#1a1a1a" stroke-width="0.22">−0.4</text>
<line x1="462.8" y1="218.0" x2="462.8" y2="222.9" stroke="#1e1e1e" stroke-width="1.1" />
<text x="462.8" y="236.0" font-size="11" text-anchor="middle" fill="#1a1a1a" textLength="25.4" lengthAdjust="spacingAndGlyphs" stroke="#1a1a1a" stroke-width="0.22">−0.2</text>
<line x1="503.4" y1="218.0" x2="503.4" y2="222.9" stroke="#1e1e1e" stroke-width="1.1" />
<text x="503.4" y="236.0" font-size="11" text-anchor="middle" fill="#1a1a1a" textLength="17.7" lengthAdjust="spacingAndGlyphs" stroke="#1a1a1a" stroke-width="0.22">0.0</text>
<line x1="565.4" y1="218.0" x2="565.4" y2="222.9" stroke="#1e1e1e" stroke-width="1.1" />
<text x="565.4" y="236.0" font-size="11" text-anchor="middle" fill="#1a1a1a" textLength="25.0" lengthAdjust="spacingAndGlyphs" stroke="#1a1a1a" stroke-width="0.22">−0.4</text>
<line x1="606.0" y1="218.0" x2="606.0" y2="222.9" stroke="#1e1e1e" stroke-width="1.1" />
<text x="606.0" y="236.0" font-size="11" text-anchor="middle" fill="#1a1a1a" textLength="25.4" lengthAdjust="spacingAndGlyphs" stroke="#1a1a1a" stroke-width="0.22">−0.2</text>
<line x1="646.6" y1="218.0" x2="646.6" y2="222.9" stroke="#1e1e1e" stroke-width="1.1" />
<text x="646.6" y="236.0" font-size="11" text-anchor="middle" fill="#1a1a1a" textLength="17.7" lengthAdjust="spacingAndGlyphs" stroke="#1a1a1a" stroke-width="0.22">0.0</text>
<line x1="42.7" y1="332.6" x2="47.6" y2="332.6" stroke="#1e1e1e" stroke-width="1.1" />
<text x="38.5" y="336.5" font-size="11" text-anchor="end" fill="#1a1a1a" textLength="17.7" lengthAdjust="spacingAndGlyphs" stroke="#1a1a1a" stroke-width="0.22">0.0</text>
<line x1="42.7" y1="439.2" x2="47.6" y2="439.2" stroke="#1e1e1e" stroke-width="1.1" />
<text x="38.5" y="443.09999999999997" font-size="11" text-anchor="end" fill="#1a1a1a" textLength="26.4" lengthAdjust="spacingAndGlyphs" stroke="#1a1a1a" stroke-width="0.22">−0.5</text>
<line x1="60.0" y1="492.3" x2="60.0" y2="497.2" stroke="#1e1e1e" stroke-width="1.1" />
<text x="60.0" y="511.2" font-size="12" text-anchor="middle" fill="#1a1a1a" >-0.75</text>
<line x1="121.0" y1="492.3" x2="121.0" y2="497.2" stroke="#1e1e1e" stroke-width="1.1" />
<text x="121.0" y="511.2" font-size="12" text-anchor="middle" fill="#1a1a1a" >0</text>
<line x1="181.8" y1="492.3" x2="181.8" y2="497.2" stroke="#1e1e1e" stroke-width="1.1" />
<text x="181.8" y="511.2" font-size="12" text-anchor="middle" fill="#1a1a1a" >0.75</text>
<line x1="231.4" y1="492.3" x2="231.4" y2="497.2" stroke="#1e1e1e" stroke-width="1.1" />
<text x="231.4" y="511.2" font-size="12" text-anchor="middle" fill="#1a1a1a" >-0.75</text>
<line x1="292.8" y1="492.3" x2="292.8" y2="497.2" stroke="#1e1e1e" stroke-width="1.1" />
<text x="292.8" y="511.2" font-size="12" text-anchor="middle" fill="#1a1a1a" >0</text>
<line x1="353.9" y1="492.3" x2="353.9" y2="497.2" stroke="#1e1e1e" stroke-width="1.1" />
<text x="353.9" y="511.2" font-size="12" text-anchor="middle" fill="#1a1a1a" >0.75</text>
<line x1="422.5" y1="492.3" x2="422.5" y2="497.2" stroke="#1e1e1e" stroke-width="1.1" />
<text x="422.5" y="510.9" font-size="11" text-anchor="middle" fill="#1a1a1a" textLength="25.0" lengthAdjust="spacingAndGlyphs" stroke="#1a1a1a" stroke-width="0.22">−0.4</text>
<line x1="463.0" y1="492.3" x2="463.0" y2="497.2" stroke="#1e1e1e" stroke-width="1.1" />
<text x="463.0" y="510.9" font-size="11" text-anchor="middle" fill="#1a1a1a" textLength="25.4" lengthAdjust="spacingAndGlyphs" stroke="#1a1a1a" stroke-width="0.22">−0.2</text>
<line x1="503.5" y1="492.3" x2="503.5" y2="497.2" stroke="#1e1e1e" stroke-width="1.1" />
<text x="503.5" y="510.9" font-size="11" text-anchor="middle" fill="#1a1a1a" textLength="17.7" lengthAdjust="spacingAndGlyphs" stroke="#1a1a1a" stroke-width="0.22">0.0</text>
<line x1="565.5" y1="492.3" x2="565.5" y2="497.2" stroke="#1e1e1e" stroke-width="1.1" />
<text x="565.5" y="510.9" font-size="11" text-anchor="middle" fill="#1a1a1a" textLength="25.0" lengthAdjust="spacingAndGlyphs" stroke="#1a1a1a" stroke-width="0.22">−0.4</text>
<line x1="606.0" y1="492.3" x2="606.0" y2="497.2" stroke="#1e1e1e" stroke-width="1.1" />
<text x="606.0" y="510.9" font-size="11" text-anchor="middle" fill="#1a1a1a" textLength="25.4" lengthAdjust="spacingAndGlyphs" stroke="#1a1a1a" stroke-width="0.22">−0.2</text>
<line x1="646.8" y1="492.3" x2="646.8" y2="497.2" stroke="#1e1e1e" stroke-width="1.1" />
<text x="646.8" y="510.9" font-size="11" text-anchor="middle" fill="#1a1a1a" textLength="17.7" lengthAdjust="spacingAndGlyphs" stroke="#1a1a1a" stroke-width="0.22">0.0</text>
<text x="36.4" y="29.8" font-size="16.15" text-anchor="start" fill="#1a1a1a" >a)</text>
<text x="119" y="30.0" font-size="16.15" text-anchor="middle" fill="#1a1a1a" >CCDW</text>
<text x="207.3" y="30.0" font-size="16.15" text-anchor="start" fill="#1a1a1a" >b)</text>
<text x="294.6" y="11.7" font-size="16.15" text-anchor="middle" fill="#1a1a1a" >current induced</text>
<text x="294.9" y="30.0" font-size="16.15" text-anchor="middle" fill="#1a1a1a" >metastable</text>
<text x="425.6" y="31.9" font-size="15.9" fill="#1a1a1a">c) k<tspan font-size="8" dx="0.6" dy="3.5">x</tspan><tspan dx="0.5" dy="-3.5">=0 Å</tspan><tspan font-size="8" dx="0.6" dy="-7.4">-1</tspan></text>
<text x="556.1" y="31.9" font-size="15.9" fill="#1a1a1a">d) k<tspan font-size="8" dx="0.6" dy="3.5">x</tspan><tspan dx="0.5" dy="-3.5">=-0.3 Å</tspan><tspan font-size="8" dx="0.6" dy="-7.4">-1</tspan></text>
<text x="36.8" y="305.5" font-size="16.15" text-anchor="start" fill="#1a1a1a" >e)</text>
<text x="119.8" y="305.5" font-size="16.15" text-anchor="middle" fill="#1a1a1a" >CCDW</text>
<text x="207.3" y="305.0" font-size="16.15" text-anchor="start" fill="#1a1a1a" >f)</text>
<text x="292.5" y="287.8" font-size="16.15" text-anchor="middle" fill="#1a1a1a" >light induced</text>
<text x="292.9" y="305.0" font-size="16.15" text-anchor="middle" fill="#1a1a1a" >metastable</text>
<text x="425.8" y="305.2" font-size="15.9" fill="#1a1a1a">g) k<tspan font-size="8" dx="0.6" dy="3.5">x</tspan><tspan dx="0.5" dy="-3.5">=0 Å</tspan><tspan font-size="8" dx="0.6" dy="-7.4">-1</tspan></text>
<text x="538" y="305.2" font-size="15.9" fill="#1a1a1a">h) k<tspan font-size="8" dx="0.6" dy="3.5">x</tspan><tspan dx="0.5" dy="-3.5">=-0.3 Å</tspan><tspan font-size="8" dx="0.6" dy="-7.4">-1</tspan></text>
<text transform="translate(11.8,117.9) rotate(-90)" x="0" y="0" font-size="16.15" text-anchor="middle" fill="#1a1a1a">E-E<tspan font-size="8.4" dy="3.3">F</tspan><tspan dy="-3.3"> [eV]</tspan></text>
<text transform="translate(19.7,391.3) rotate(-90)" x="0" y="0" font-size="16.15" text-anchor="middle" fill="#1a1a1a">E-E<tspan font-size="8.4" dy="3.3">F</tspan><tspan dy="-3.3"> [eV]</tspan></text>
<text transform="translate(400.3,126) rotate(-90)" x="0" y="0" font-size="16.15" text-anchor="middle" fill="#1a1a1a">intensity [a.u.]</text>
<text transform="translate(400.3,408.7) rotate(-90)" x="0" y="0" font-size="16.15" text-anchor="middle" fill="#1a1a1a">intensity [a.u.]</text>
<text x="118.8" y="253.7" font-size="16.15" text-anchor="middle" fill="#1a1a1a">k<tspan font-size="8.3" dy="3.0">x</tspan><tspan dy="-3.0"> [1/Å]</tspan></text>
<text x="291.5" y="253.7" font-size="16.15" text-anchor="middle" fill="#1a1a1a">k<tspan font-size="8.3" dy="3.0">x</tspan><tspan dy="-3.0"> [1/Å]</tspan></text>
<text x="460.6" y="256" font-size="16.15" text-anchor="middle" fill="#1a1a1a">E-E<tspan font-size="8.4" dy="3.3">F</tspan><tspan dy="-3.3"> [eV]</tspan></text>
<text x="602.2" y="256" font-size="16.15" text-anchor="middle" fill="#1a1a1a">E-E<tspan font-size="8.4" dy="3.3">F</tspan><tspan dy="-3.3"> [eV]</tspan></text>
<text x="118.8" y="534.2" font-size="16.15" text-anchor="middle" fill="#1a1a1a">k<tspan font-size="8.3" dy="3.0">x</tspan><tspan dy="-3.0"> [1/Å]</tspan></text>
<text x="292.5" y="534.2" font-size="16.15" text-anchor="middle" fill="#1a1a1a">k<tspan font-size="8.3" dy="3.0">x</tspan><tspan dy="-3.0"> [1/Å]</tspan></text>
<text x="460.1" y="533.6" font-size="16.15" text-anchor="middle" fill="#1a1a1a">E-E<tspan font-size="8.4" dy="3.3">F</tspan><tspan dy="-3.3"> [eV]</tspan></text>
<text x="602.0" y="533.6" font-size="16.15" text-anchor="middle" fill="#1a1a1a">E-E<tspan font-size="8.4" dy="3.3">F</tspan><tspan dy="-3.3"> [eV]</tspan></text>
<rect x="113" y="198.6" width="14" height="17.4" fill="#fff" opacity="0.97"/>
<line x1="55" y1="206.6" x2="66.3" y2="206.6" stroke="#1a1a1a" stroke-width="1.5"/>
<polygon points="48.7,206.6 56.6,202.7 56.6,210.5" fill="#1a1a1a"/>
<text x="68.5" y="212.9" font-size="15.4" text-anchor="start" fill="#1a1a1a" textLength="12.4" lengthAdjust="spacingAndGlyphs">M</text>
<text x="116.8" y="212.9" font-size="15.4" text-anchor="start" fill="#1a1a1a" >Γ</text></svg>
</body></html>
